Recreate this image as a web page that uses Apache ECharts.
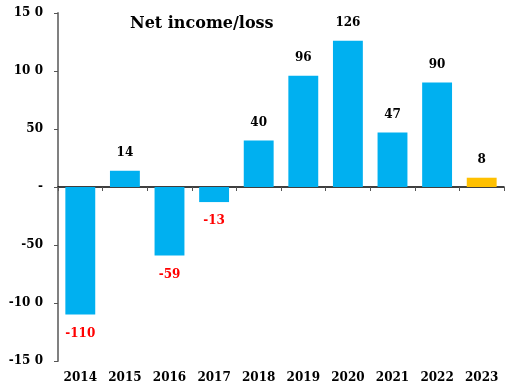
<!DOCTYPE html>
<html><head><meta charset="utf-8">
<script src="https://cdn.jsdelivr.net/npm/echarts@6/dist/echarts.min.js"></script>
<style>html,body{margin:0;padding:0;background:#fff}#c{width:506px;height:387px}</style>
</head><body><div id="c"></div>
<script>
const categories = ['2014','2015','2016','2017','2018','2019','2020','2021','2022','2023'];
const values = [-110, 14, -59, -13, 40, 96, 126, 47, 90, 8];
const yTicks = {'150':'15 0','100':'10 0','50':'50','0':'-','-50':'-50','-100':'-10 0','-150':'-15 0'};
const title = 'Net income/loss';
const fontF = '"DejaVu Serif", "Liberation Serif", serif';

const chart = echarts.init(document.getElementById('c'));
chart.setOption({
  animation: false,
  title: { text: title, left: 125, top: 11, textStyle: { fontFamily: fontF, fontWeight: 'bold', fontSize: 16, color: '#000' } },
  grid: { left: 58, right: 2, top: 13, bottom: 26 },
  xAxis: [
    { type: 'category', data: categories, position: 'bottom',
      axisLine: { onZero: true, lineStyle: { color: '#000', width: 1.5 } },
      axisTick: { show: true, inside: false, length: 4, lineStyle: { color: '#555' } },
      axisLabel: { show: false } },
    { type: 'category', data: categories, position: 'bottom', offset: 0,
      axisLine: { show: false, onZero: false }, axisTick: { show: false },
      axisLabel: { margin: 11, fontFamily: fontF, fontWeight: 'bold', fontSize: 12, color: '#000' } }
  ],
  yAxis: { type: 'value', min: -150, max: 150, interval: 50,
    axisLine: { show: true, lineStyle: { color: '#808080', width: 2 } },
    axisTick: { show: true, length: 4, lineStyle: { color: '#555' } },
    splitLine: { show: false },
    axisLabel: { margin: 15, fontFamily: fontF, fontWeight: 'bold', fontSize: 12, color: '#000',
      formatter: v => yTicks[String(v)] } },
  series: [{
    type: 'bar', barCategoryGap: '33%',
    data: values.map((v, i) => ({
      value: v,
      itemStyle: { color: i === values.length - 1 ? '#FFC000' : '#00B0F0' },
      label: { show: true, position: v < 0 ? 'bottom' : 'top', distance: v < 0 ? 13 : 12,
        color: v < 0 ? '#FF0000' : '#000' }
    })),
    label: { fontFamily: fontF, fontWeight: 'bold', fontSize: 12 }
  }]
});
</script></body></html>
